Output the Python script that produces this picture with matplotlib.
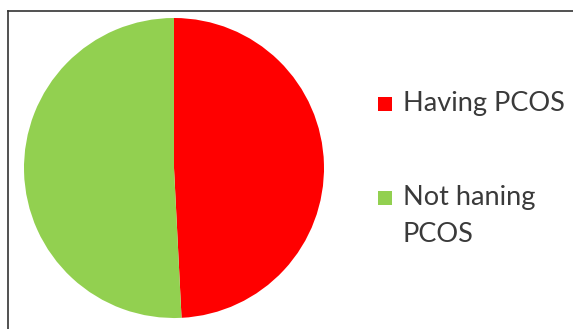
import matplotlib.pyplot as plt
from matplotlib.lines import Line2D
from matplotlib.patches import Rectangle

# Data
labels = ['Having PCOS', 'Not haning\nPCOS']
shares = [49.2, 50.8]
colors = ['#FF0000', '#92D050']

plt.rcParams['font.family'] = ['Lato', 'DejaVu Sans']

W, H = 573, 329
fig = plt.figure(figsize=(W / 100, H / 100), dpi=100)

# Pie axes (centre ~ (174,168) px, radius ~150 px)
ax = fig.add_axes([(174 - 150) / W, 1 - (168 + 150) / H, 300 / W, 300 / H])
wedges, _ = ax.pie(shares, colors=colors, startangle=90, counterclock=False,
                   wedgeprops=dict(linewidth=0))
ax.set_xlim(-1, 1)
ax.set_ylim(-1, 1)
ax.set_aspect('equal')

# Legend drawn by hand: square marker + label, one row per slice
baselines = [111, 205]   # first-line baseline of each row, px from top
line_pitch = 37
for lab, col, base in zip(labels, colors, baselines):
    fig.add_artist(Rectangle((378 / W, 1 - base / H), 14 / W, 14 / H,
                             transform=fig.transFigure, facecolor=col,
                             edgecolor='none'))
    for k, line in enumerate(lab.split('\n')):
        fig.text(403 / W, 1 - (base + k * line_pitch) / H, line,
                 ha='left', va='baseline', fontsize=19.5, color='#3a3a3a')

# Frame lines on top and left
fig.add_artist(Line2D([7.5 / W, 1.0], [1 - 10.5 / H, 1 - 10.5 / H],
                      color='#333333', linewidth=1.2))
fig.add_artist(Line2D([7.5 / W, 7.5 / W], [0.0, 1 - 10.5 / H],
                      color='#333333', linewidth=1.2))

fig.savefig('out.png', dpi=100)
